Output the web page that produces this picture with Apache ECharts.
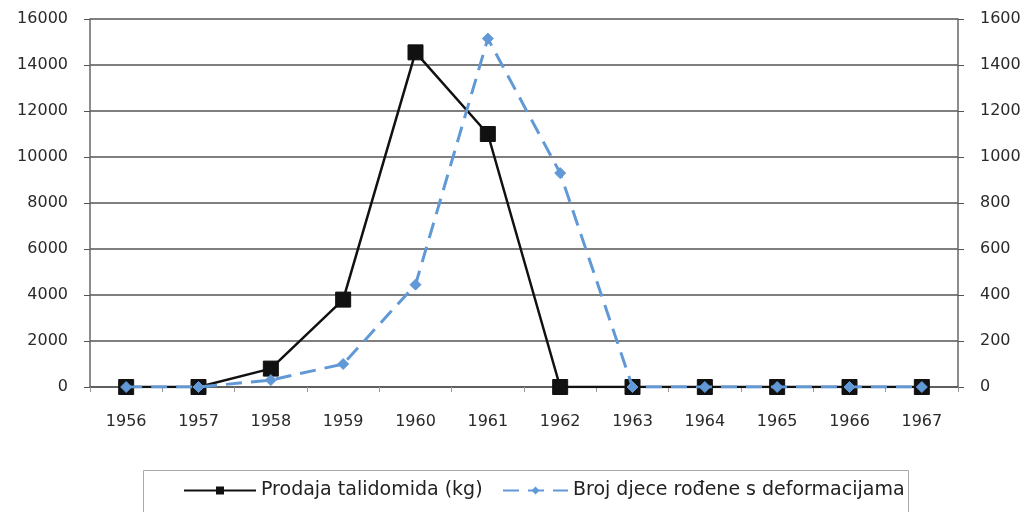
<!DOCTYPE html>
<html><head><meta charset="utf-8">
<script src="https://cdn.jsdelivr.net/npm/echarts@6/dist/echarts.min.js"></script>
<style>html,body{margin:0;padding:0;background:#fff}#c{width:1030px;height:512px}</style>
</head><body><div id="c"></div>
<script>
const years = ['1956','1957','1958','1959','1960','1961','1962','1963','1964','1965','1966','1967'];
const prodajaKg = [0, 0, 800, 3800, 14550, 11000, 0, 0, 0, 0, 0, 0];
const brojDjece = [0, 0, 30, 100, 445, 1515, 930, 0, 0, 0, 0, 0];
const leftTicks = [0, 16000, 2000];
const rightTicks = [0, 1600, 200];
const seriesNames = ['Prodaja talidomida (kg)', 'Broj djece rođene s deformacijama'];

const chart = echarts.init(document.getElementById('c'));
const labelFont = {fontFamily: 'DejaVu Sans', fontSize: 16, color: '#2a2a2a'};
const legendText = {fontFamily: 'DejaVu Sans', fontSize: 19, color: '#222'};
const plain = v => String(v);
chart.setOption({
  animation: false,
  backgroundColor: '#fff',
  grid: {left: 90, right: 72, top: 19, bottom: 125},
  graphic: [{
    type: 'rect', left: 143, top: 470, silent: true,
    shape: {width: 765, height: 60},
    style: {fill: '#fff', stroke: '#aaa', lineWidth: 1}, z: -1
  }],
  legend: [
    {left: 183, top: 481, padding: 0, itemWidth: 72, itemHeight: 10,
     textStyle: legendText, data: [seriesNames[0]]},
    {left: 502, top: 481, padding: 0, itemWidth: 65, itemHeight: 10,
     textStyle: legendText, data: [seriesNames[1]]}
  ],
  xAxis: {
    type: 'category', data: years, boundaryGap: true,
    axisLine: {lineStyle: {color: '#555', width: 1.5}},
    axisTick: {show: true, length: 5, lineStyle: {color: '#999'}},
    axisLabel: Object.assign({margin: 27}, labelFont)
  },
  yAxis: [
    {type: 'value', min: leftTicks[0], max: leftTicks[1], interval: leftTicks[2],
     axisLine: {show: true, lineStyle: {color: '#666', width: 1.5}},
     axisTick: {show: true, length: 6, lineStyle: {color: '#555'}},
     splitLine: {lineStyle: {color: '#555', width: 1.5}},
     axisLabel: Object.assign({margin: 22, formatter: plain}, labelFont)},
    {type: 'value', min: rightTicks[0], max: rightTicks[1], interval: rightTicks[2],
     axisLine: {show: true, lineStyle: {color: '#666', width: 1.5}},
     axisTick: {show: true, length: 6, lineStyle: {color: '#555'}},
     splitLine: {show: false},
     axisLabel: Object.assign({margin: 22, formatter: plain}, labelFont)}
  ],
  series: [
    {name: seriesNames[0], type: 'line', yAxisIndex: 0, data: prodajaKg,
     symbol: 'rect', symbolSize: 15,
     lineStyle: {color: '#111', width: 2.5},
     itemStyle: {color: '#111', borderColor: '#111'}, z: 2},
    {name: seriesNames[1], type: 'line', yAxisIndex: 1, data: brojDjece,
     symbol: 'diamond', symbolSize: 11,
     lineStyle: {color: '#6199d6', width: 3, type: [16, 9]},
     itemStyle: {color: '#6199d6', borderColor: '#6199d6'}, z: 3}
  ]
});
</script></body></html>
